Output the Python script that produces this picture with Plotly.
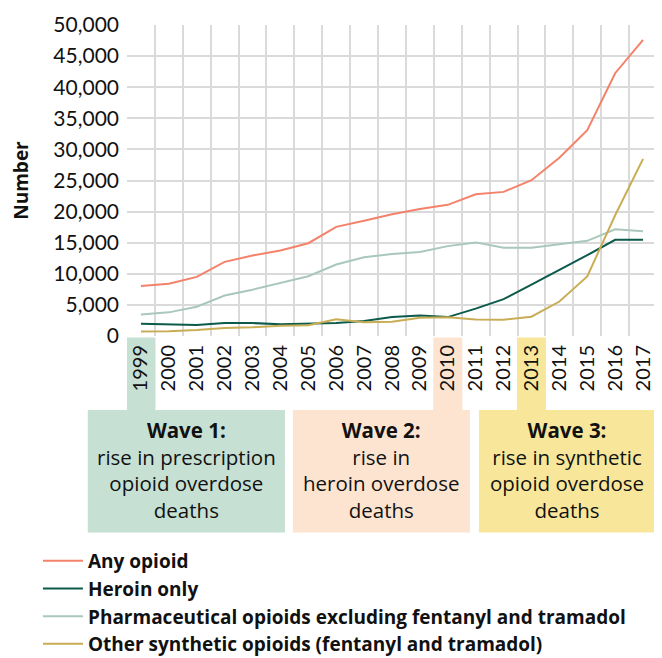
import plotly.graph_objects as go

years = list(range(1999, 2018))
year_labels = [str(y) for y in years]

any_opioid = [8050, 8410, 9500, 11920, 12940, 13760, 14920, 17550, 18520, 19580,
              20420, 21090, 22780, 23170, 25050, 28650, 33090, 42250, 47600]
heroin_only = [1960, 1840, 1780, 2090, 2080, 1880, 2010, 2090, 2400, 3040,
               3280, 3040, 4400, 5930, 8260, 10570, 12990, 15470, 15480]
pharma_excl = [3450, 3800, 4700, 6500, 7450, 8500, 9600, 11500, 12650, 13200,
               13500, 14450, 15050, 14200, 14200, 14750, 15300, 17150, 16850]
synthetic = [730, 780, 960, 1300, 1400, 1660, 1740, 2700, 2210, 2310,
             2950, 3010, 2670, 2630, 3110, 5540, 9580, 19410, 28470]

series_names = ["Any opioid", "Heroin only",
                "Pharmaceutical opioids excluding fentanyl and tramadol",
                "Other synthetic opioids (fentanyl and tramadol)"]
series_values = [any_opioid, heroin_only, pharma_excl, synthetic]
series_colors = ["#F4826A", "#0B5A4A", "#A9C8BB", "#C9AD55"]

y_ticks = list(range(0, 50001, 5000))
y_ticktext = ["{:,}".format(v) for v in y_ticks]

highlight_years = [1999, 2010, 2013]
highlight_colors = ["#C6E0D3", "#FDE4D0", "#F8E79B"]

wave_texts = ["<b>Wave 1:</b><br>rise in prescription<br>opioid overdose<br>deaths",
              "<b>Wave 2:</b><br>rise in<br>heroin overdose<br>deaths",
              "<b>Wave 3:</b><br>rise in synthetic<br>opioid overdose<br>deaths"]
wave_x = [(-0.074, 0.298), (0.313, 0.647), (0.664, 0.998)]

FONT = "Lato"
TEXT_FONT = "Open Sans"

fig = go.Figure()
for name, vals, col in zip(series_names, series_values, series_colors):
    fig.add_trace(go.Scatter(x=years, y=vals, mode="lines", name=name,
                             line=dict(color=col, width=2)))

# invisible trace on secondary x axis for category boundary gridlines
fig.add_trace(go.Scatter(x=[years[0] - 0.5, years[-1] + 0.5], y=[0, 0], xaxis="x2",
                         mode="lines", line=dict(width=0), showlegend=False,
                         hoverinfo="skip"))

shapes = []
for yr, col in zip(highlight_years, highlight_colors):
    shapes.append(dict(type="rect", xref="x", yref="paper",
                       x0=yr - 0.52, x1=yr + 0.52, y0=-0.238, y1=-0.005,
                       fillcolor=col, line=dict(width=0), layer="below"))
annotations = []
for (x0, x1), col, txt in zip(wave_x, highlight_colors, wave_texts):
    shapes.append(dict(type="rect", xref="paper", yref="paper",
                       x0=x0, x1=x1, y0=-0.632, y1=-0.238,
                       fillcolor=col, line=dict(width=0), layer="below"))
    annotations.append(dict(xref="paper", yref="paper", x=(x0 + x1) / 2,
                            y=-0.430, text=txt, showarrow=False,
                            xanchor="center", yanchor="middle",
                            font=dict(family=TEXT_FONT, size=20.5, color="#111111"),
                            align="center"))

fig.update_layout(
    width=654, height=650,
    margin=dict(l=119, r=5, t=17, b=322, autoexpand=False),
    paper_bgcolor="white", plot_bgcolor="white",
    font=dict(family=FONT, color="#111111"),
    showlegend=True,
    legend=dict(x=-0.168, y=-0.662, xanchor="left", yanchor="top",
                font=dict(family=TEXT_FONT, size=19, color="#111111",
                          weight="bold"),
                bgcolor="rgba(0,0,0,0)", itemwidth=40, tracegroupgap=0),
    shapes=shapes,
    annotations=annotations,
    xaxis=dict(range=[years[0] - 0.5, years[-1] + 0.5], tickmode="array",
               tickvals=years, ticktext=year_labels, tickangle=-90,
               showgrid=False, zeroline=False, showline=False, ticks="",
               automargin=False, ticklabelstandoff=4,
               tickfont=dict(family=FONT, size=20, color="#111111")),
    xaxis2=dict(range=[years[0] - 0.5, years[-1] + 0.5], overlaying="x",
                side="bottom", tick0=years[0] - 0.5, dtick=1, showgrid=True,
                gridcolor="#DADADA", gridwidth=1.5, showticklabels=False,
                zeroline=False, showline=False, ticks="", automargin=False),
    yaxis=dict(range=[0, 50000], tickvals=y_ticks, ticktext=y_ticktext,
               showgrid=True, gridcolor="#DADADA", gridwidth=1.5,
               zeroline=False, showline=False, ticks="", automargin=False,
               ticklabelstandoff=7,
               tickfont=dict(family=FONT, size=21, color="#111111"),
               title=dict(text="<b>Number</b>", font=dict(family=TEXT_FONT, size=19,
                                                          color="#111111"),
                          standoff=24)),
)

fig.write_html("out.html")
